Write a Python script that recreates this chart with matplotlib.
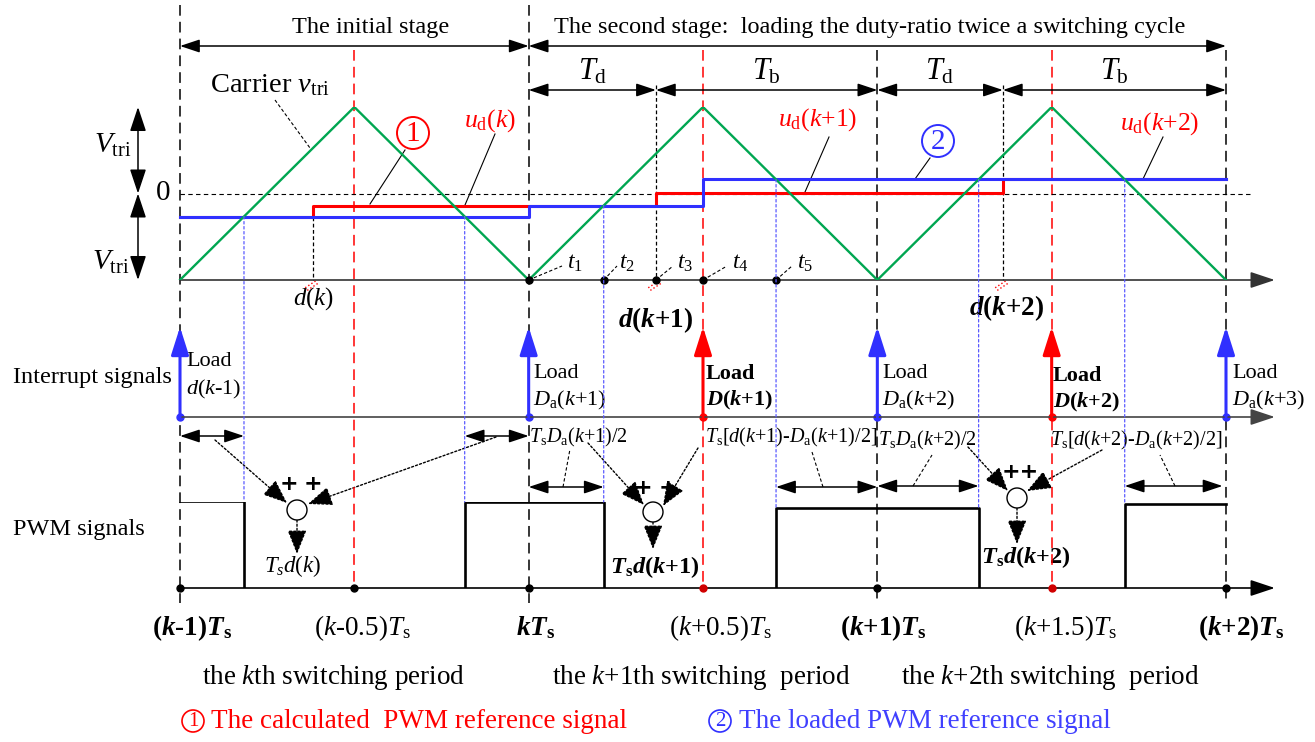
import numpy as np
import matplotlib.pyplot as plt
from matplotlib.patches import Circle, ConnectionPatch
from matplotlib.transforms import blended_transform_factory

plt.rcParams['font.family'] = ['Liberation Serif', 'DejaVu Serif']
plt.rcParams['mathtext.fontset'] = 'custom'
plt.rcParams['mathtext.rm'] = 'Liberation Serif'
plt.rcParams['mathtext.it'] = 'Liberation Serif:italic'
plt.rcParams['mathtext.bf'] = 'Liberation Serif:bold'
plt.rcParams['mathtext.bfit'] = 'Liberation Serif:bold:italic'

# time in switching periods, (k-1)Ts = 0 ; carrier in units of Vtri
carrier_t = [0, 0.5, 1, 1.5, 2, 2.5, 3]
carrier_v = [-1, 1, -1, 1, -1, 1, -1]

# calculated reference u_d (red) and loaded reference (blue)
calc_t = [0, 0.381, 1.365, 2.36, 3]
calc_v = [-0.266, -0.139, 0.008, 0.162]
load_t = [0, 1, 1.5, 3]
load_v = [-0.266, -0.139, 0.162]

# PWM pulse heights (normalised)
pwm_high = [1.01, 1.0, 0.93, 0.977]

int_blue = [0, 1, 2, 3]
int_red = [1.5, 2.5]
sample_t = [0, 0.5, 1, 1.5, 2, 2.5, 3]
sample_col = ['k', 'k', 'k', '#d00000', 'k', '#d00000', 'k']

bottom_labels = [
    (0, r'($\mathbfit{k}$-1)$\mathbfit{T}_{\mathbf{s}}$', True),
    (0.5, r'($k$-0.5)$T_{\rm s}$', False),
    (1, r'$\mathbfit{kT}_{\mathbf{s}}$', True),
    (1.5, r'($k$+0.5)$T_{\rm s}$', False),
    (2, r'($\mathbfit{k}$+1)$\mathbfit{T}_{\mathbf{s}}$', True),
    (2.5, r'($k$+1.5)$T_{\rm s}$', False),
    (3, r'($\mathbfit{k}$+2)$\mathbfit{T}_{\mathbf{s}}$', True),
]

GREEN = '#00a651'
RED = '#ff0000'
BLUE = '#3030ff'

W, H = 1315, 742
ts_px = (1226 - 180) / 3
xlim = (-180 / ts_px, (W - 180) / ts_px)

fig = plt.figure(figsize=(W / 100, H / 100), dpi=100)
lay = fig.add_axes([0, 0, 1, 1])
lay.set_xlim(0, W)
lay.set_ylim(H, 0)
ax = fig.add_axes([0, 0, 1, 1])
ax.set_xlim(xlim)
ax.set_ylim(H, 0)
car = fig.add_axes([0, 1 - 280 / H, 1, (280 - 107) / H])
car.set_xlim(xlim)
car.set_ylim(-1, 1)
pwm = fig.add_axes([0, 1 - 588 / H, 1, (588 - 502) / H])
pwm.set_xlim(xlim)
pwm.set_ylim(0, 1)
for a in (lay, ax, car, pwm):
    a.axis('off')


def arrow(a, p0, p1, color='k', lw=1.2, style='-|>', hl=0.6, hw=0.2, ls='-', trans=None):
    props = dict(arrowstyle=f'{style},head_length={hl},head_width={hw}', color=color,
                 lw=lw, shrinkA=0, shrinkB=0, mutation_scale=20, linestyle=ls)
    c = trans if trans is not None else 'data'
    a.annotate('', xy=p1, xytext=p0, xycoords=c, textcoords=c, arrowprops=props,
               annotation_clip=False)


def txt(x, y, s, size, ha='center', **kw):
    lay.text(x, y, s, fontsize=size, ha=ha, va='center', **kw)


def level(t, ts, vs):
    return vs[np.searchsorted(ts, t, side='right') - 1]


# crossings of loaded reference with the carrier
rise = [p + (level(p + 0.25, load_t, load_v) + 1) / 4 for p in range(3)]
fall = [p + 0.5 + (1 - level(p + 0.75, load_t, load_v)) / 4 for p in range(3)]
pulses = [(0, rise[0]), (fall[0], rise[1]), (fall[1], rise[2]), (fall[2], 3)]

# vertical guide lines
for t, top in zip(int_blue, [5, 5, 50, 50]):
    ax.plot([t, t], [top, 603], color='k', lw=1.1, ls=(0, (7, 4)))
for t in [0.5, 1.5, 2.5]:
    ax.plot([t, t], [50, 588], color=RED, lw=1.1, ls=(0, (7, 4)))

# stage arrows
arrow(ax, (0, 46), (1, 46), style='<|-|>', lw=1.1)
arrow(ax, (1, 46), (3, 46), style='<|-|>', lw=1.1)
txt(371, 27, 'The initial stage', 17.5)
txt(870, 27, 'The second stage:  loading the duty-ratio twice a switching cycle', 17.5)

# Td / Tb arrows
tdb = [1, calc_t[2], 2, calc_t[3], 3]
for i in range(4):
    arrow(ax, (tdb[i], 90), (tdb[i + 1], 90), style='<|-|>', lw=1.1)
for i, lab in enumerate([r'$T_{\rm d}$', r'$T_{\rm b}$', r'$T_{\rm d}$', r'$T_{\rm b}$']):
    xm = 180 + ts_px * (tdb[i] + tdb[i + 1]) / 2
    txt(xm, 72, lab, 22)

# carrier panel
car.plot([0, 3.077], [0, 0], color='k', lw=0.8, ls=(0, (4, 3)))
car.plot(carrier_t, carrier_v, color=GREEN, lw=1.7, zorder=4)
car.plot(calc_t, calc_v + [calc_v[-1]], drawstyle='steps-post', color=RED, lw=2.2, zorder=3)
car.plot(load_t, load_v + [load_v[-1]], drawstyle='steps-post', color=BLUE, lw=2.2, zorder=3)
arrow(car, (0, -1), (3.14, -1), lw=1.2, color='#333333', hl=0.75, hw=0.25)

# thin dashed lines at the calculated steps
for t, top in zip(calc_t[1:4], [level(calc_t[1], load_t, load_v), 1.254, 1.254]):
    car.plot([t, t], [top, -1], color='k', lw=0.9, ls=(0, (3, 2)), clip_on=False)
    car.plot([t - 0.022, t + 0.012], [-1.09, -1.0], color=RED, lw=1.0, ls=':', clip_on=False)
    car.plot([t - 0.016, t + 0.018], [-1.12, -1.03], color=RED, lw=1.0, ls=':', clip_on=False)

tdots = [1, rise[1], calc_t[2], 1.5, fall[1]]
car.plot(tdots, [-1] * 5, 'o', color='k', ms=5, zorder=5, clip_on=False)
tlab_x = [571, 623, 681, 736, 801]
lead_end = [(562, 266), (617, 266), (673, 266), (727, 266), (792, 266)]
for i, (t, lx) in enumerate(zip(tdots, tlab_x)):
    x0 = 180 + ts_px * t
    lay.plot([x0, lead_end[i][0]], [280, lead_end[i][1]], color='k', lw=0.8, ls=(0, (3, 2)))
    txt(lx + 4, 263, f'$t_{i + 1}$', 17)

# Vtri annotation
vtr = blended_transform_factory(lay.transData, car.transData)
arrow(lay, (138, 0), (138, 1), style='<|-|>', lw=1.1, hl=0.75, hw=0.25, trans=vtr)
arrow(lay, (138, 0), (138, -1), style='<|-|>', lw=1.1, hl=0.75, hw=0.25, trans=vtr)
txt(113, 145, r'$V_{\rm tri}$', 21)
txt(111, 262, r'$V_{\rm tri}$', 21)
txt(163, 193, '0', 21)

# labels in the carrier panel
txt(270, 85, r'Carrier $v_{\rm tri}$', 20.5)
lay.plot([275, 310], [100, 148], color='k', lw=0.8, ls=(0, (3, 2)))
lay.add_patch(Circle((413, 133), 16, fill=False, ec=RED, lw=1.4))
txt(413, 134, '1', 21, color=RED)
lay.plot([405, 370], [150, 204], color='k', lw=0.8)
txt(490, 121, r'$u_{\rm d}(k)$', 18.5, color=RED)
lay.plot([495, 465], [134, 205], color='k', lw=0.8)
txt(818, 120, r'$u_{\rm d}(k$+1)', 18.5, color=RED)
lay.plot([829, 805], [137, 192], color='k', lw=0.8)
lay.add_patch(Circle((938, 141), 16, fill=False, ec=BLUE, lw=1.4))
txt(938, 142, '2', 21, color=BLUE)
lay.plot([930, 915], [158, 179], color='k', lw=0.8)
txt(1160, 124, r'$u_{\rm d}(k$+2)', 18.5, color=RED)
lay.plot([1163, 1143], [137, 179], color='k', lw=0.8)

txt(314, 299, r'$d(k)$', 18)
txt(656, 320, r'$\mathbfit{d}$($\mathbfit{k}$+1)', 19.5, fontweight='bold')
txt(1007, 308, r'$\mathbfit{d}$($\mathbfit{k}$+2)', 19.5, fontweight='bold')

# interrupt signals
arrow(ax, (0, 417), (3.14, 417), lw=1.2, color='#444444', hl=0.75, hw=0.25)
for t in int_blue:
    arrow(ax, (t, 417), (t, 327), color=BLUE, lw=2.2, hl=0.85, hw=0.27)
    ax.plot(t, 417, 'o', color=BLUE, ms=5)
for t in int_red:
    arrow(ax, (t, 417), (t, 327), color=RED, lw=2.2, hl=0.85, hw=0.27)
    ax.plot(t, 417, 'o', color=RED, ms=5)
txt(13, 378, 'Interrupt signals', 17.5, ha='left')
txt(13, 530, 'PWM signals', 17.5, ha='left')

loads = [
    (186, 362, 389, r'$d$($k$-1)', False),
    (533, 373, 400, r'$D_{\rm a}$($k$+1)', False),
    (706, 374, 400, r'$\mathbfit{D}$($\mathbfit{k}$+1)', True),
    (882, 373, 400, r'$D_{\rm a}$($k$+2)', False),
    (1053, 376, 402, r'$\mathbfit{D}$($\mathbfit{k}$+2)', True),
    (1232, 373, 400, r'$D_{\rm a}$($k$+3)', False),
]
for x, y1, y2, s, bold in loads:
    fw = 'bold' if bold else 'normal'
    txt(x, y1, 'Load', 16, ha='left', fontweight=fw)
    txt(x, y2, s, 16, ha='left', fontweight=fw)

# PWM signals
arrow(pwm, (0, 0), (3.14, 0), lw=1.2, hl=0.75, hw=0.25)
for (a0, a1), h in zip(pulses, pwm_high):
    xs = [a0, a0, a1, a1]
    ys = [0, h, h, 0]
    if a0 == 0:
        xs, ys = xs[1:], ys[1:]
    if a1 == 3:
        xs, ys = xs[:-1], ys[:-1]
    pwm.plot(xs, ys, color='k', lw=1.9)
for t, c in zip(sample_t, sample_col):
    pwm.plot(t, 0, 'o', color=c, ms=5, clip_on=False, zorder=5)

# blue dotted lines from crossings to PWM edges
edge_t = [rise[0], fall[0], rise[1], fall[1], rise[2], fall[2]]
edge_h = [pwm_high[0], pwm_high[1], pwm_high[1], pwm_high[2], pwm_high[2], pwm_high[3]]
for t, h in zip(edge_t, edge_h):
    con = ConnectionPatch(xyA=(t, level(t, load_t, load_v)), coordsA=car.transData,
                          xyB=(t, h), coordsB=pwm.transData, color='#5a5aff', lw=0.9,
                          ls=(0, (2, 2)))
    fig.add_artist(con)

# timing arrows under the interrupt axis
spans = [(0, rise[0], 436), (fall[0], 1, 436), (1, rise[1], 487), (fall[1], 2, 487),
         (2, rise[2], 486), (fall[2], 2.99, 486)]
for a0, a1, y in spans:
    arrow(ax, (a0, y), (a1, y), style='<|-|>', lw=1.1)

txt(529, 437, r'$T_{\rm s}D_{\rm a}$($k$+1)/2', 14.5, ha='left')
txt(705, 437, r'$T_{\rm s}$[$d$($k$+1)-$D_{\rm a}$($k$+1)/2]', 14.5, ha='left')
txt(878, 440, r'$T_{\rm s}D_{\rm a}$($k$+2)/2', 14.5, ha='left')
txt(1050, 440, r'$T_{\rm s}$[$d$($k$+2)-$D_{\rm a}$($k$+2)/2]', 14.5, ha='left')
for p0, p1 in [((563, 487), (570, 449)), ((823, 487), (812, 452)),
               ((913, 486), (932, 455)), ((1175, 486), (1160, 455))]:
    lay.plot([p0[0], p1[0]], [p0[1], p1[1]], color='k', lw=0.8, ls=(0, (3, 2)))

# summing junctions
junctions = [(297, 510), (653, 512), (1017, 498)]
for cx, cy in junctions:
    lay.add_patch(Circle((cx, cy), 10, fc='white', ec='k', lw=1.0, zorder=6))
dotted = [((215, 440), (287, 503)), ((496, 437), (308, 504)), ((297, 520), (297, 554)),
          ((588, 443), (644, 505)), ((698, 448), (663, 506)), ((653, 522), (653, 549)),
          ((968, 447), (1008, 491)), ((1102, 450), (1027, 491)), ((1017, 508), (1017, 544))]
for p0, p1 in dotted:
    arrow(lay, p0, p1, lw=1.0, ls=(0, (1.5, 1.5)), hl=0.75, hw=0.3)
for x, y, s in [(289, 484, '+'), (313, 484, '+'), (643, 488, '+'), (668, 488, '+'),
                (1020, 472, '++')]:
    lay.text(x, y, s, fontsize=16, fontweight='bold', family='DejaVu Sans',
             ha='center', va='center')
txt(293, 566, r'$T_sd(k)$', 16.5)
txt(655, 567, r'$\mathbfit{T}_{\mathbf{s}}\mathbfit{d}$($\mathbfit{k}$+1)', 17.5, fontweight='bold')
txt(1026, 557, r'$\mathbfit{T}_{\mathbf{s}}\mathbfit{d}$($\mathbfit{k}$+2)', 17.5, fontweight='bold')

# time labels
label_dx = [12, 8, 7, 18, 6, 14, 15]
for (t, s, bold), dx in zip(bottom_labels, label_dx):
    x = 180 + ts_px * t + dx
    txt(x, 628, s, 19.5, fontweight='bold' if bold else 'normal')

txt(334, 677, r'the $k$th switching period', 19.5)
txt(701, 677, r'the $k$+1th switching  period', 19.5)
txt(1050, 677, r'the $k$+2th switching  period', 19.5)

lay.add_patch(Circle((193, 721), 11, fill=False, ec=RED, lw=1.2))
txt(193, 722, '1', 15, color=RED)
txt(211, 721, 'The calculated  PWM reference signal', 19.5, ha='left', color=RED)
lay.add_patch(Circle((720, 721), 11, fill=False, ec=BLUE, lw=1.2))
txt(720, 722, '2', 15, color=BLUE)
txt(739, 721, 'The loaded PWM reference signal', 19.5, ha='left', color='#4040ff')

fig.savefig('out.png', dpi=100)
